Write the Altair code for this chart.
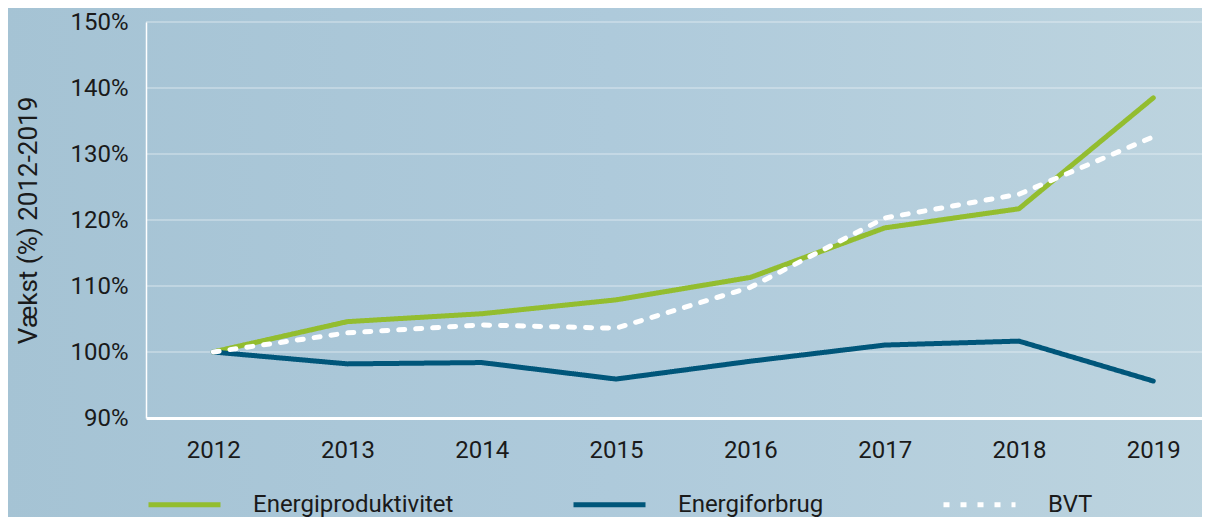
import altair as alt
import pandas as pd

years = [2012, 2013, 2014, 2015, 2016, 2017, 2018, 2019]
energiproduktivitet = [100, 104.6, 105.8, 107.9, 111.3, 118.8, 121.7, 138.5]
energiforbrug = [100, 98.2, 98.4, 95.9, 98.6, 101.05, 101.65, 95.6]
bvt = [100, 102.9, 104.1, 103.6, 109.8, 120.3, 123.9, 132.6]
series_names = ["Energiproduktivitet", "Energiforbrug", "BVT"]
series_colors = ["#93bd2f", "#00567a", "#ffffff"]
series_dashes = [[1, 0], [1, 0], [6, 11]]
y_ticks = [90, 100, 110, 120, 130, 140, 150]
grid_values = [100, 110, 120, 130, 140, 150]
y_title = "Vækst (%) 2012-2019"

rows = []
for name, vals in zip(series_names, [energiproduktivitet, energiforbrug, bvt]):
    for yr, v in zip(years, vals):
        rows.append({"år": yr, "serie": name, "værdi": v})
df = pd.DataFrame(rows)
grid_df = pd.DataFrame({"værdi": grid_values})
bg_df = pd.DataFrame({"bg": [0]})

FONT = "Roboto"
TXT = "#1a1a1a"
W, H = 1056, 396

legend = alt.Legend(
    title=None,
    orient="none",
    direction="horizontal",
    legendX=0,
    legendY=444,
    symbolType="stroke",
    symbolSize=5184,
    symbolStrokeWidth=5,
    labelFontSize=24,
    labelFont=FONT,
    labelColor=TXT,
    labelOffset=30,
    labelLimit=500,
    columnPadding=109,
    padding=0,
)

y_enc = alt.Y(
    "værdi:Q",
    scale=alt.Scale(domain=[90, 150], nice=False, zero=False),
    axis=alt.Axis(
        values=y_ticks,
        labelExpr="datum.value + '%'",
        title=y_title,
        titleFontSize=26,
        titleFont=FONT,
        titleFontWeight="normal",
        titleColor=TXT,
        titlePadding=28,
        ticks=False,
        labelPadding=18,
        labelFontSize=24,
        labelFont=FONT,
        labelColor=TXT,
        domainColor="#ffffff",
        domainWidth=1.5,
        grid=False,
        zindex=1,
    ),
)

bg = (
    alt.Chart(bg_df)
    .mark_rect(
        fill=alt.LinearGradient(
            gradient="linear",
            stops=[
                alt.GradientStop(color="#a5c3d4", offset=0),
                alt.GradientStop(color="#aecadb", offset=0.5),
                alt.GradientStop(color="#bdd4df", offset=1),
            ],
            x1=0, x2=1, y1=0, y2=0,
        )
    )
    .encode(
        x=alt.value(-146),
        x2=alt.value(W + 20),
        y=alt.value(-22),
        y2=alt.value(H + 114),
    )
)

grid = (
    alt.Chart(grid_df)
    .mark_rule(color="#ffffff", opacity=0.55, strokeWidth=1.2)
    .encode(y=y_enc, x=alt.value(0), x2=alt.value(W))
)

lines = (
    alt.Chart(df)
    .mark_line(strokeWidth=5, strokeCap="round", strokeJoin="round")
    .encode(
        x=alt.X(
            "år:Q",
            scale=alt.Scale(domain=[2011.5, 2019.363], nice=False, zero=False),
            axis=alt.Axis(
                values=years,
                format="d",
                title=None,
                grid=False,
                ticks=False,
                labelPadding=20,
                labelFontSize=24,
                labelFont=FONT,
                labelColor=TXT,
                domainColor="#ffffff",
                domainWidth=3,
                zindex=1,
            ),
        ),
        y=y_enc,
        color=alt.Color(
            "serie:N",
            scale=alt.Scale(domain=series_names, range=series_colors),
            legend=legend,
        ),
        strokeDash=alt.StrokeDash(
            "serie:N",
            scale=alt.Scale(domain=series_names, range=series_dashes),
            legend=legend,
        ),
    )
)

chart = (
    alt.layer(bg, grid, lines)
    .properties(
        width=W,
        height=H,
        autosize=alt.AutoSizeParams(type="none"),
        padding={"left": 138, "top": 14, "right": 0, "bottom": 99},
        background="#aec9d9",
    )
    .configure_view(stroke=None)
)

chart.save("out.html", embed_options={"renderer": "svg", "actions": False})
